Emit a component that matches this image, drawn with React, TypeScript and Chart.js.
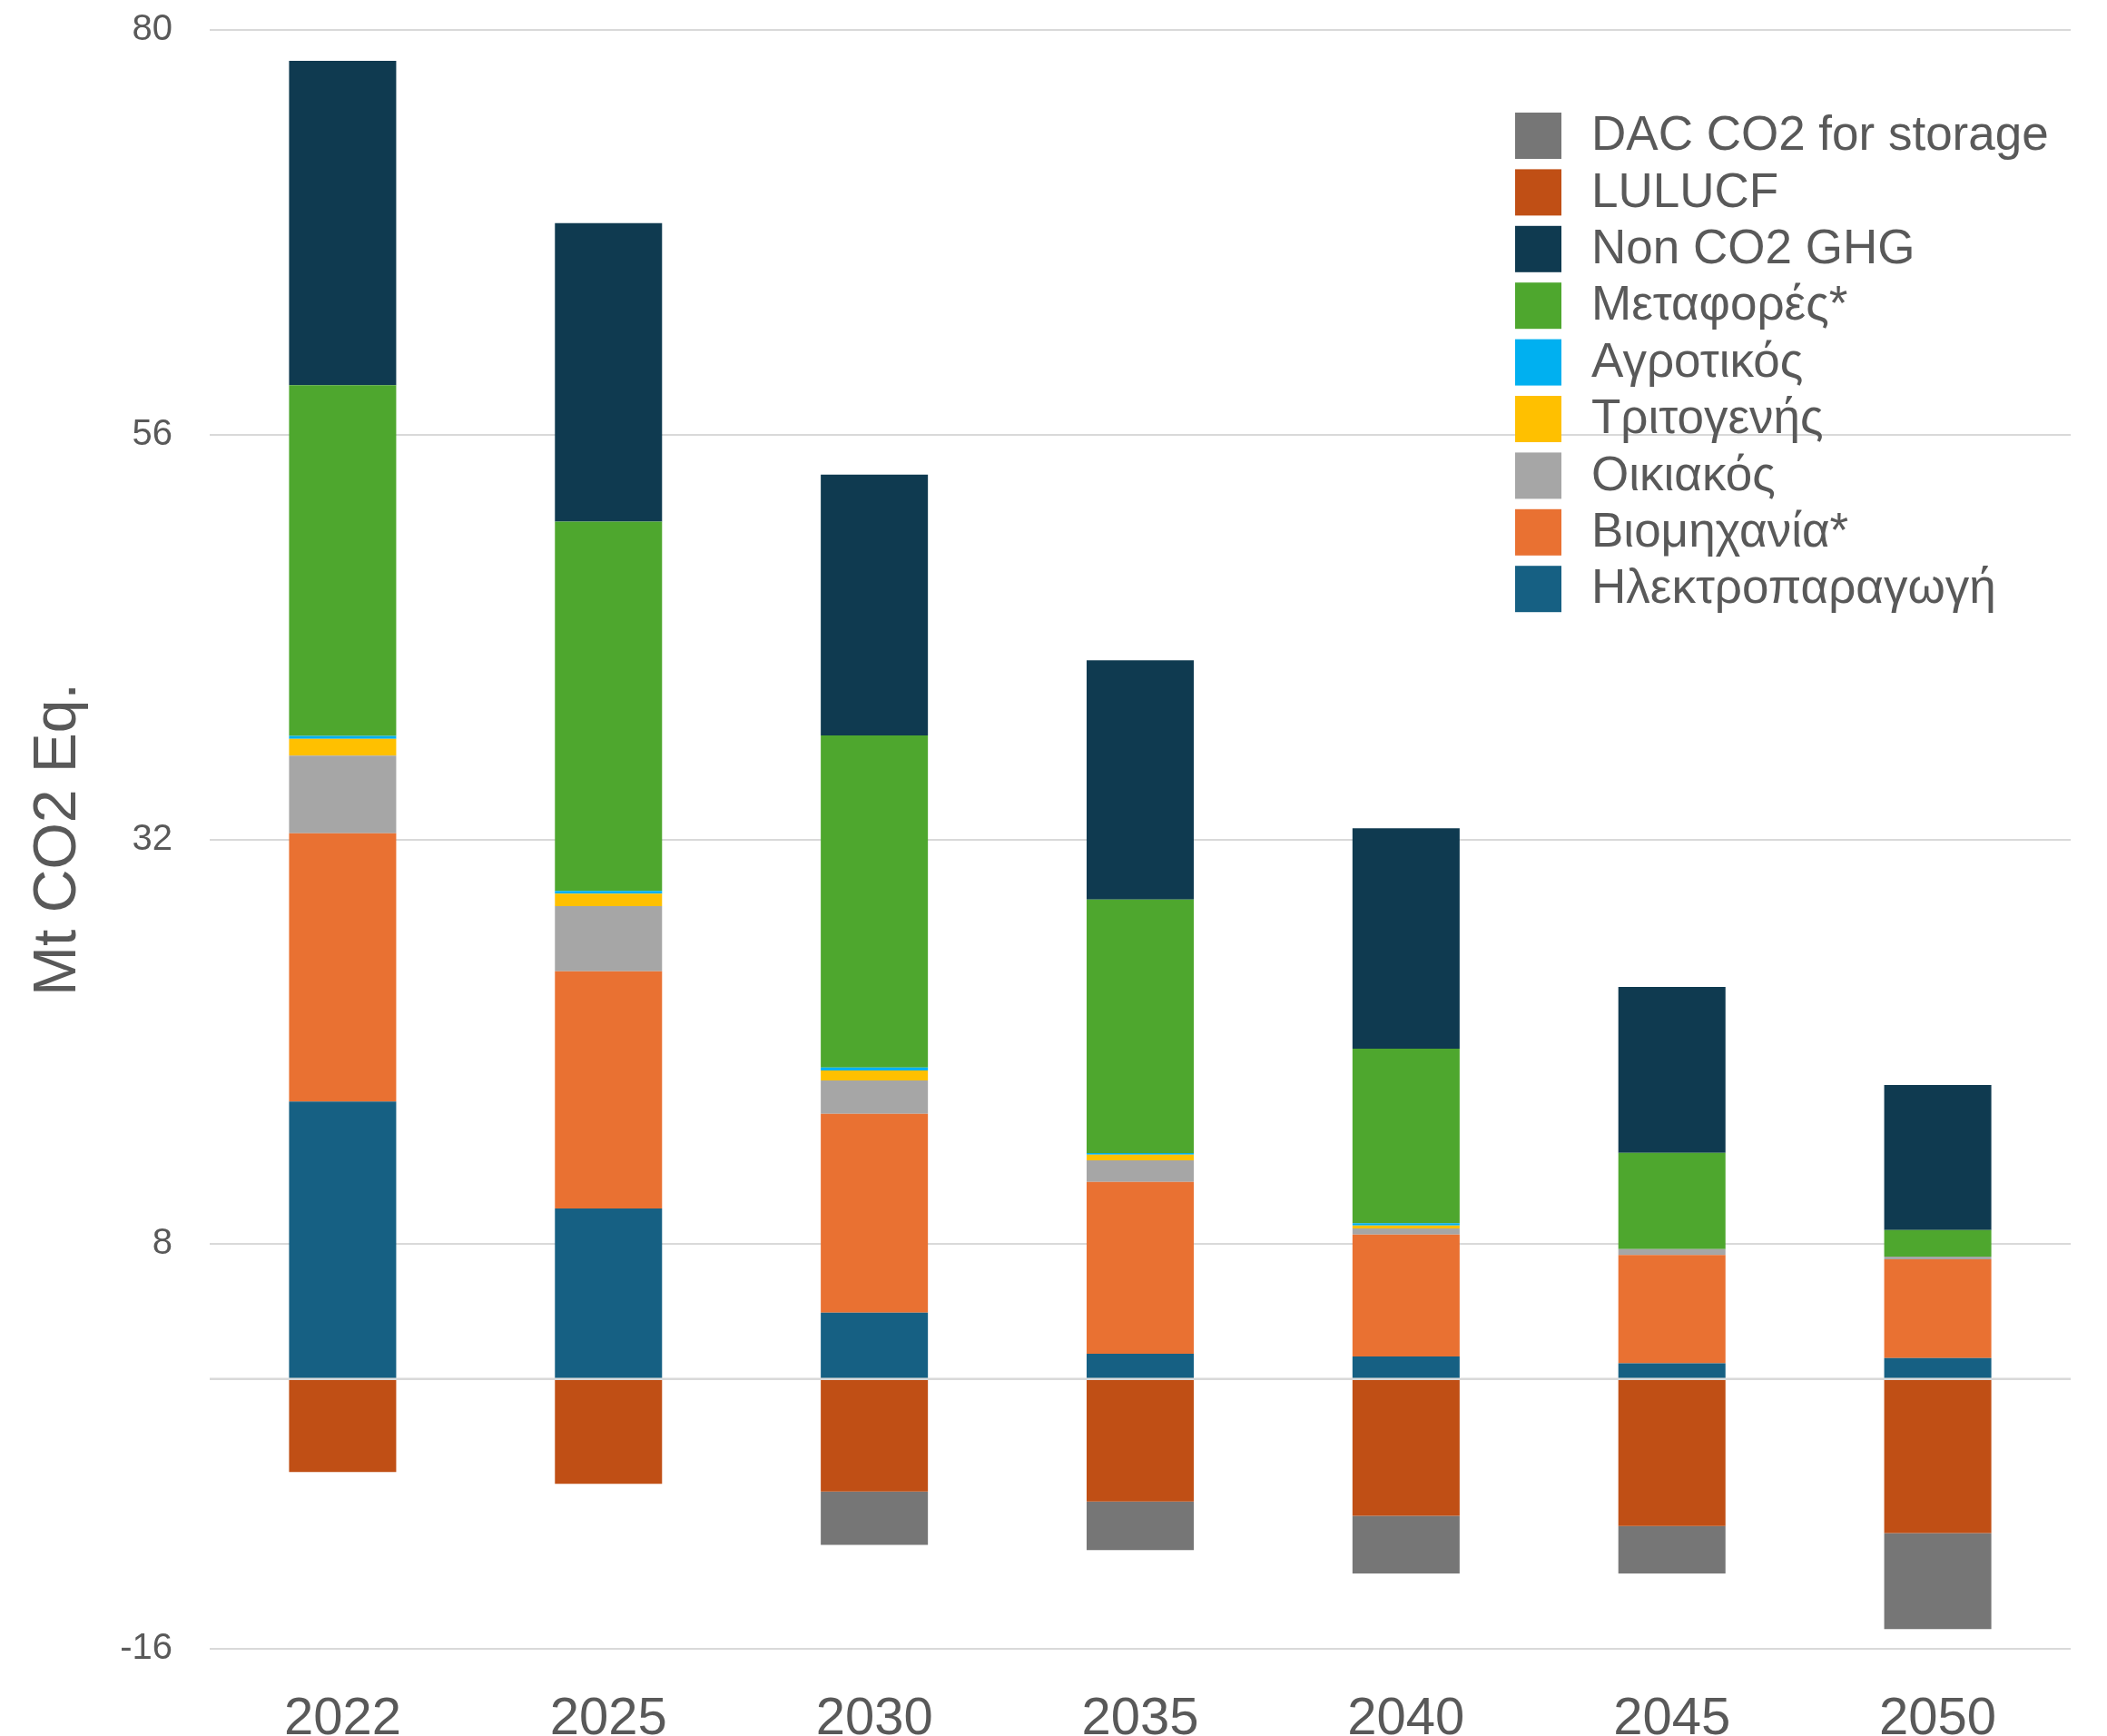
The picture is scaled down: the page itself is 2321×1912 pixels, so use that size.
import React, { useEffect, useRef } from 'react';
import { Chart, registerables } from 'chart.js';

Chart.register(...registerables);

const years = ['2022', '2025', '2030', '2035', '2040', '2045', '2050'];

const electricity = [16.45, 10.12, 3.93, 1.5, 1.34, 0.93, 1.24];
const industry = [15.91, 14.06, 11.8, 10.19, 7.22, 6.43, 5.86];
const residential = [4.61, 3.86, 1.97, 1.28, 0.37, 0.34, 0.16];
const tertiary = [0.99, 0.74, 0.6, 0.33, 0.17, 0, 0];
const agriculture = [0.18, 0.16, 0.17, 0.1, 0.14, 0, 0];
const transport = [20.79, 21.9, 19.69, 15.03, 10.35, 5.71, 1.57];
const nonCO2 = [19.24, 17.7, 15.47, 14.19, 13.07, 9.84, 8.6];
const lulucf = [-5.51, -6.22, -6.67, -7.27, -8.11, -8.72, -9.14];
const dac = [0, 0, -3.17, -2.88, -3.42, -2.81, -5.69];

const yTicks = [-16, 8, 32, 56, 80];

const seriesNames = [
  'Ηλεκτροπαραγωγή',
  'Βιομηχανία*',
  'Οικιακός',
  'Τριτογενής',
  'Αγροτικός',
  'Μεταφορές*',
  'Non CO2 GHG',
  'LULUCF',
  'DAC CO2 for storage',
];
const seriesColors = [
  '#166083',
  '#E97132',
  '#A6A6A6',
  '#FFC000',
  '#00B0F0',
  '#4EA72E',
  '#0F3A50',
  '#C04F15',
  '#767676',
];
const seriesValues = [electricity, industry, residential, tertiary, agriculture, transport, nonCO2, lulucf, dac];

const FONT = '"Liberation Sans", Arial, Helvetica, sans-serif';
const TEXT = '#595959';

export default function App() {
  const ref = useRef<HTMLCanvasElement | null>(null);

  useEffect(() => {
    if (!ref.current) return;
    Chart.defaults.font.family = FONT;

    const zeroLine = {
      id: 'zeroLine',
      afterDatasetsDraw(chart: any) {
        const ctx = chart.ctx;
        const y = chart.scales.y.getPixelForValue(0);
        ctx.save();
        ctx.strokeStyle = '#D9D9D9';
        ctx.lineWidth = 2.5;
        ctx.beginPath();
        ctx.moveTo(chart.chartArea.left, y);
        ctx.lineTo(chart.chartArea.right, y);
        ctx.stroke();
        ctx.restore();
      },
    };

    const customLegend = {
      id: 'customLegend',
      afterDraw(chart: any) {
        const ctx = chart.ctx;
        const ds = chart.data.datasets.slice().reverse();
        const boxX = 1669;
        const boxY0 = 124;
        const step = 62.4;
        const box = 51;
        ctx.save();
        ctx.font = `53px ${FONT}`;
        ctx.textBaseline = 'middle';
        ctx.textAlign = 'left';
        ds.forEach((d: any, i: number) => {
          const y = boxY0 + i * step;
          ctx.fillStyle = d.backgroundColor;
          ctx.fillRect(boxX, y, box, box);
          ctx.fillStyle = TEXT;
          ctx.fillText(d.label, boxX + 84, y + box / 2 + 1);
        });
        ctx.restore();
      },
    };

    const chart = new Chart(ref.current, {
      type: 'bar',
      data: {
        labels: years,
        datasets: seriesNames.map((name, i) => ({
          label: name,
          data: seriesValues[i],
          backgroundColor: seriesColors[i],
          borderWidth: 0,
          barPercentage: 0.403,
          categoryPercentage: 1.0,
        })),
      },
      options: {
        responsive: false,
        animation: false,
        layout: { padding: { top: 33, right: 40, left: 0, bottom: 0 } },
        plugins: {
          legend: { display: false },
          tooltip: { enabled: false },
        },
        scales: {
          x: {
            stacked: true,
            grid: { display: false },
            border: { display: false },
            ticks: {
              color: TEXT,
              font: { family: FONT, size: 58 },
              padding: 35,
            },
            afterFit(scale: any) {
              scale.height = 96;
              scale.paddingLeft = 0;
              scale.paddingRight = 0;
            },
          },
          y: {
            stacked: true,
            min: -16,
            max: 80,
            afterBuildTicks(scale: any) {
              scale.ticks = yTicks.map((v) => ({ value: v }));
            },
            ticks: {
              color: TEXT,
              font: { family: FONT, size: 40 },
              padding: 41,
            },
            grid: { color: '#D9D9D9', lineWidth: 2, drawTicks: false },
            border: { display: false },
            title: {
              display: true,
              text: 'Mt CO2 Eq.',
              color: TEXT,
              font: { family: FONT, size: 66 },
              padding: { top: 25, bottom: 0 },
            },
            afterFit(scale: any) {
              scale.width = 231;
              scale.paddingTop = 0;
              scale.paddingBottom = 0;
            },
          },
        },
      },
      plugins: [zeroLine, customLegend],
    } as any);

    return () => chart.destroy();
  }, []);

  return (
    <div style={{ position: 'absolute', left: 0, top: 0, width: 2321, height: 1912, background: '#fff' }}>
      <canvas ref={ref} width={2321} height={1912} style={{ display: 'block' }} />
    </div>
  );
}
